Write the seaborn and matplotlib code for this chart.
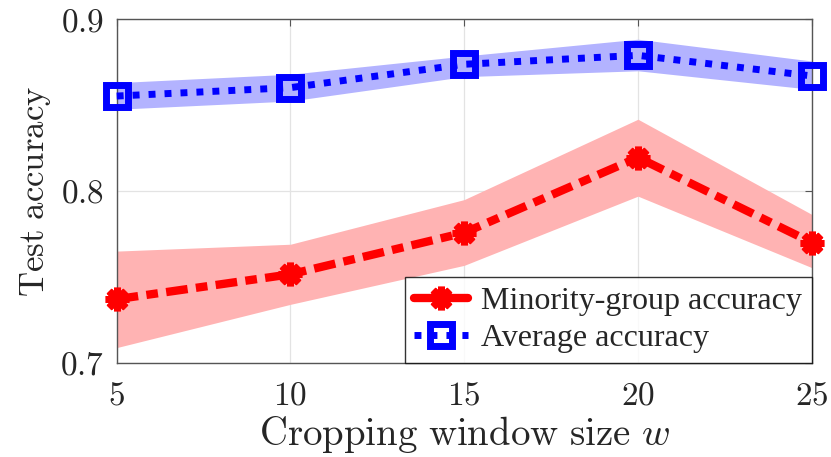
import numpy as np
import pandas as pd
import seaborn as sns
import matplotlib
matplotlib.use("Agg")
import matplotlib.pyplot as plt

# ---- data ----
window = [5, 10, 15, 20, 25]
minority = [0.737, 0.7515, 0.7757, 0.8195, 0.770]
minority_hi = [0.765, 0.769, 0.795, 0.8418, 0.7864]
minority_lo = [0.7088, 0.734, 0.7567, 0.797, 0.7554]
average = [0.8553, 0.8602, 0.8738, 0.879, 0.867]
average_hi = [0.8631, 0.868, 0.8786, 0.8884, 0.8757]
average_lo = [0.8476, 0.8524, 0.8666, 0.870, 0.8592]
ytick_labels = ["0.7", "0.8", "0.9"]

sns.set_style("white")
plt.rcParams['font.family'] = ['Liberation Serif', 'DejaVu Serif']
plt.rcParams['mathtext.fontset'] = 'cm'

df = pd.DataFrame({
    "w": window * 2,
    "acc": minority + average,
    "series": ["Minority-group accuracy"] * 5 + ["Average accuracy"] * 5,
})

fig = plt.figure(figsize=(8.31, 4.57), dpi=100)
ax = fig.add_axes([0.1404, 0.2063, 0.8364, 0.7515])

ax.fill_between(window, minority_lo, minority_hi, color="#ffb3b3", lw=0, zorder=1)
ax.fill_between(window, average_lo, average_hi, color="#b3b3ff", lw=0, zorder=1)

sns.lineplot(data=df[df.series == "Minority-group accuracy"], x="w", y="acc",
             color="red", lw=6, marker=(8, 2, 0), markersize=17, mew=5,
             mec="red", label="Minority-group accuracy", ax=ax, zorder=3)
sns.lineplot(data=df[df.series == "Average accuracy"], x="w", y="acc",
             color="blue", lw=5, marker="s", markersize=16, mew=5,
             mec="blue", mfc="none", label="Average accuracy", ax=ax, zorder=3)
lines = ax.get_lines()
lines[0].set_linestyle((0, (2.6, 1.0, 1.4, 1.0)))
lines[1].set_linestyle((0, (1.0, 1.3)))
for ln in lines:
    ln.set_dash_capstyle("butt")
    ln.set_clip_on(False)

ax.set_xlim(5, 25)
ax.set_ylim(0.7, 0.9)
ax.set_xticks(window)
ax.set_xticklabels([f"${v}$" for v in window])
ax.set_yticks([0.7, 0.8, 0.9])
ax.set_yticklabels([f"${t}$" for t in ytick_labels])
ax.grid(True, color="#e3e3e3", lw=0.9)
ax.set_axisbelow(True)
for sp in ax.spines.values():
    sp.set_color("#555555")
    sp.set_linewidth(1.0)
ax.tick_params(direction="in", length=5, width=0.8, color="#555555",
               top=True, right=True, labelsize=24)
ax.tick_params(axis="x", pad=13)
ax.tick_params(axis="y", pad=9)
ax.set_xlabel(r"$\mathrm{Cropping\ window\ size}\ w$", fontsize=28, labelpad=2)
ax.set_ylabel(r"$\mathrm{Test\ accuracy}$", fontsize=25, labelpad=5)

leg = ax.legend(loc="lower right", fontsize=23, frameon=True, fancybox=False,
                borderaxespad=0, handlelength=1.7, handletextpad=0.4,
                borderpad=0.3, labelspacing=0.25)
leg.get_frame().set_edgecolor("black")
leg.get_frame().set_linewidth(1.0)
leg.get_lines()[0].set_linestyle("-")

fig.savefig("out.png", dpi=100)
